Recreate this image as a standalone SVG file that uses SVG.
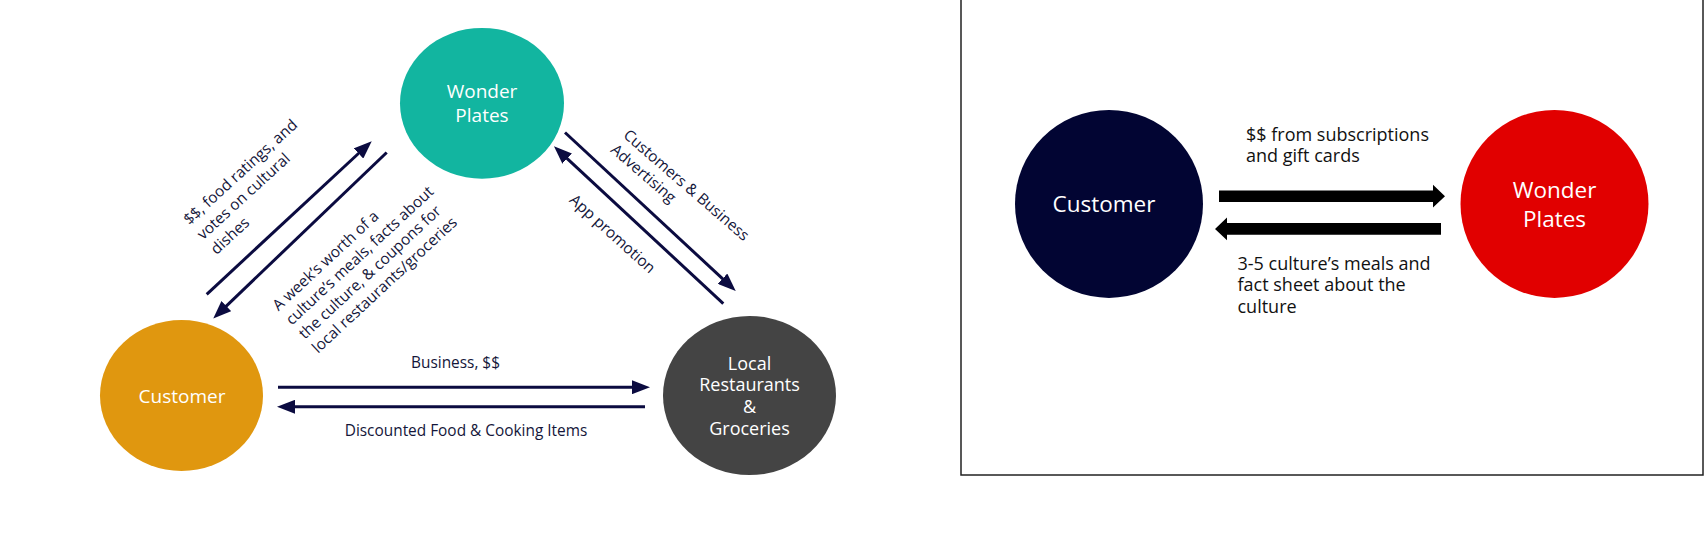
<svg xmlns="http://www.w3.org/2000/svg" width="1704" height="540" viewBox="0 0 1704 540">
<defs>
<style>
.lbl{font-family:"Open Sans","Liberation Sans",sans-serif;font-size:15.4px;fill:#14163a}
.node{font-family:"Open Sans","Liberation Sans",sans-serif;fill:#ffffff;text-anchor:middle}
.rlbl{font-family:"Open Sans","Liberation Sans",sans-serif;font-size:18px;fill:#111111}
.arr{stroke:#0b0b40;stroke-width:3;fill:none;marker-end:url(#head)}
</style>
<marker id="head" markerUnits="userSpaceOnUse" viewBox="0 0 18 14" markerWidth="18" markerHeight="14" refX="8" refY="7" orient="auto">
<path d="M0,0 L18,7 L0,14 Z" fill="#0b0b40"/>
</marker>
</defs>
<rect width="1704" height="540" fill="#ffffff"/>

<g id="wonder-plates">
<ellipse cx="482" cy="103.3" rx="82" ry="75.4" fill="#12b5a0"/>
<text class="node" font-size="19" x="482" y="98.1">Wonder</text>
<text class="node" font-size="19" x="482" y="121.8">Plates</text>
</g>
<g id="customer">
<ellipse cx="181.5" cy="395.5" rx="81.5" ry="75.4" fill="#e0970f"/>
<text class="node" font-size="19" x="182" y="402.7">Customer</text>
</g>
<g id="local">
<ellipse cx="749.5" cy="395.5" rx="86.5" ry="79.5" fill="#444444"/>
<text class="node" font-size="18" x="749.5" y="369.7">Local</text>
<text class="node" font-size="18" x="749.5" y="391.4">Restaurants</text>
<text class="node" font-size="18" x="749.5" y="413">&amp;</text>
<text class="node" font-size="18" x="749.5" y="435.2">Groceries</text>
</g>

<g id="connectors">
<path class="arr" d="M206.7,294.3 L364.4,148"/>
<path class="arr" d="M386.7,152.5 L220.5,311.6"/>
<path class="arr" d="M565,132.5 L728.4,284.1"/>
<path class="arr" d="M723.3,303.6 L561.3,153.1"/>
<path class="arr" d="M278,387.2 L640,387.2"/>
<path class="arr" d="M645,406.8 L287,406.8"/>
<path d="M1219,190.5 H1433 V184.8 L1445,196.2 L1433,207.6 V201.9 H1219 Z" fill="#000000"/>
<path d="M1441,223 H1227 V217.6 L1215,228.9 L1227,240.3 V234.7 H1441 Z" fill="#000000"/>
</g>

<g id="labels">
<text class="lbl" transform="translate(189.5,225.6) rotate(-42.4)"><tspan x="0" y="0">$$, food ratings, and</tspan><tspan x="0" dy="20">votes on cultural</tspan><tspan x="0" dy="20">dishes</tspan></text>
<text class="lbl" transform="translate(278.5,311.6) rotate(-42.9)"><tspan x="0" y="0">A week’s worth of a</tspan><tspan x="0" dy="19.3">culture’s meals, facts about</tspan><tspan x="0" dy="19.3">the culture, &amp; coupons for</tspan><tspan x="0" dy="19.3">local restaurants/groceries</tspan></text>
<text class="lbl" transform="translate(622.4,136.6) rotate(40.9)"><tspan x="0" y="0">Customers &amp; Business</tspan><tspan x="0" dy="19.3">Advertising</tspan></text>
<text class="lbl" transform="translate(568.4,201.3) rotate(41.9)">App promotion</text>
<text class="lbl" x="455.5" y="368.1" text-anchor="middle">Business, $$</text>
<text class="lbl" x="466" y="436.3" text-anchor="middle">Discounted Food &amp; Cooking Items</text>
</g>

<g id="right-panel">
<rect x="961" y="-1" width="742" height="476" fill="none" stroke="#222222" stroke-width="1.5"/>
</g>
<g id="customer-2">
<ellipse cx="1109" cy="203.9" rx="94" ry="94" fill="#020533"/>
<text class="node" font-size="22.5" x="1104" y="212.2">Customer</text>
</g>
<g id="wonder-plates-2">
<ellipse cx="1554.5" cy="203.9" rx="94" ry="94" fill="#e10000"/>
<text class="node" font-size="22.5" x="1554.5" y="197.7">Wonder</text>
<text class="node" font-size="22.5" x="1554.5" y="227.2">Plates</text>
</g>
<g id="right-labels">
<text class="rlbl" x="1246" y="141"><tspan x="1246">$$ from subscriptions</tspan><tspan x="1246" dy="21.4">and gift cards</tspan></text>
<text class="rlbl" x="1237.5" y="269.5"><tspan x="1237.5">3-5 culture’s meals and</tspan><tspan x="1237.5" dy="21.7">fact sheet about the</tspan><tspan x="1237.5" dy="21.7">culture</tspan></text>
</g>
</svg>
